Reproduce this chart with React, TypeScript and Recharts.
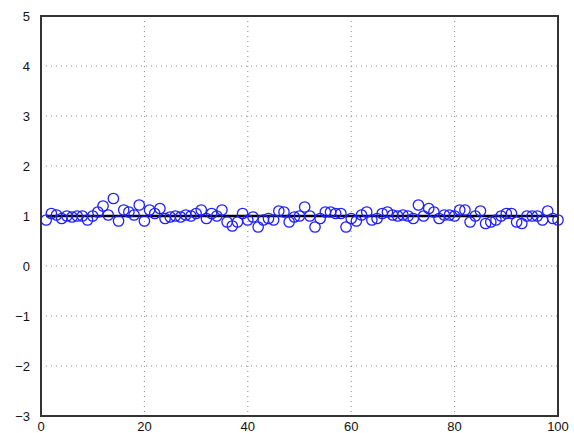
import { CartesianGrid, ComposedChart, ReferenceLine, Scatter, XAxis, YAxis } from "recharts";

const samples: number[] = [
    0.92, 1.05, 1.02, 0.95, 1.0, 0.98, 1.0, 1.0, 0.92, 1.0,
    1.08, 1.2, 1.02, 1.35, 0.9, 1.12, 1.08, 1.02, 1.22, 0.9,
    1.12, 1.05, 1.15, 0.95, 0.98, 1.0, 0.98, 1.02, 1.0, 1.05,
    1.12, 0.95, 1.05, 1.0, 1.12, 0.88, 0.8, 0.88, 1.05, 0.92,
    0.98, 0.78, 0.92, 0.95, 0.92, 1.1, 1.08, 0.88, 0.98, 1.0,
    1.18, 1.0, 0.78, 0.95, 1.08, 1.08, 1.05, 1.05, 0.78, 0.95,
    0.9, 1.02, 1.08, 0.92, 0.95, 1.05, 1.08, 1.02, 1.0, 1.02,
    1.0, 0.95, 1.22, 1.0, 1.15, 1.08, 0.95, 1.02, 1.02, 1.0,
    1.12, 1.12, 0.88, 1.0, 1.1, 0.85, 0.88, 0.92, 1.0, 1.05,
    1.05, 0.88, 0.85, 1.0, 1.0, 1.0, 0.92, 1.1, 0.95, 0.92,
];
const xTicks = [0, 20, 40, 60, 80, 100];
const yTicks = [-3, -2, -1, 0, 1, 2, 3, 4, 5];
const meanValue = 1;

const points = samples.map((y, i) => ({ x: i + 1, y }));

const fmt = (v: number) => String(v).replace("-", "\u2212");

const Ring = (props: any) => {
    const { cx, cy } = props;
    return <circle cx={cx} cy={cy} r={5.2} fill="none" stroke="#1f1fff" strokeWidth={1.3} />;
};

const tickStyle = { fill: "#111", fontSize: 13, fontFamily: "Liberation Sans, Arial, sans-serif" };
const frameColor = "#333";

export default function App() {
    return (
        <div style={{ position: "fixed", left: 0, top: 0, width: 574, height: 433, background: "#fff" }}>
            <ComposedChart width={574} height={433} margin={{ top: 16, right: 16, bottom: 0, left: 0 }}>
                <CartesianGrid
                    stroke="#888"
                    strokeDasharray="1 4"
                    horizontalValues={yTicks}
                    verticalValues={xTicks}
                />
                <XAxis
                    dataKey="x"
                    type="number"
                    domain={[0, 100]}
                    ticks={xTicks}
                    height={17}
                    tickLine={false}
                    tickMargin={0}
                    stroke={frameColor}
                    strokeWidth={2}
                    tick={tickStyle}
                />
                <YAxis
                    dataKey="y"
                    type="number"
                    domain={[-3, 5]}
                    ticks={yTicks}
                    width={41}
                    tickLine={false}
                    tickMargin={5}
                    tickFormatter={fmt}
                    stroke={frameColor}
                    strokeWidth={2}
                    tick={tickStyle}
                    interval={0}
                />
                <ReferenceLine y={5} stroke={frameColor} strokeWidth={2} />
                <ReferenceLine x={100} stroke={frameColor} strokeWidth={2} />
                <Scatter data={points} shape={Ring} isAnimationActive={false} />
                <ReferenceLine
                    segment={[{ x: 1, y: meanValue }, { x: 100, y: meanValue }]}
                    stroke="#000"
                    strokeWidth={2.5}
                />
            </ComposedChart>
            <div
                style={{
                    position: "absolute",
                    left: 40,
                    top: 15,
                    width: 519,
                    height: 402,
                    border: `2px solid ${frameColor}`,
                    boxSizing: "border-box",
                    pointerEvents: "none",
                }}
            />
        </div>
    );
}
